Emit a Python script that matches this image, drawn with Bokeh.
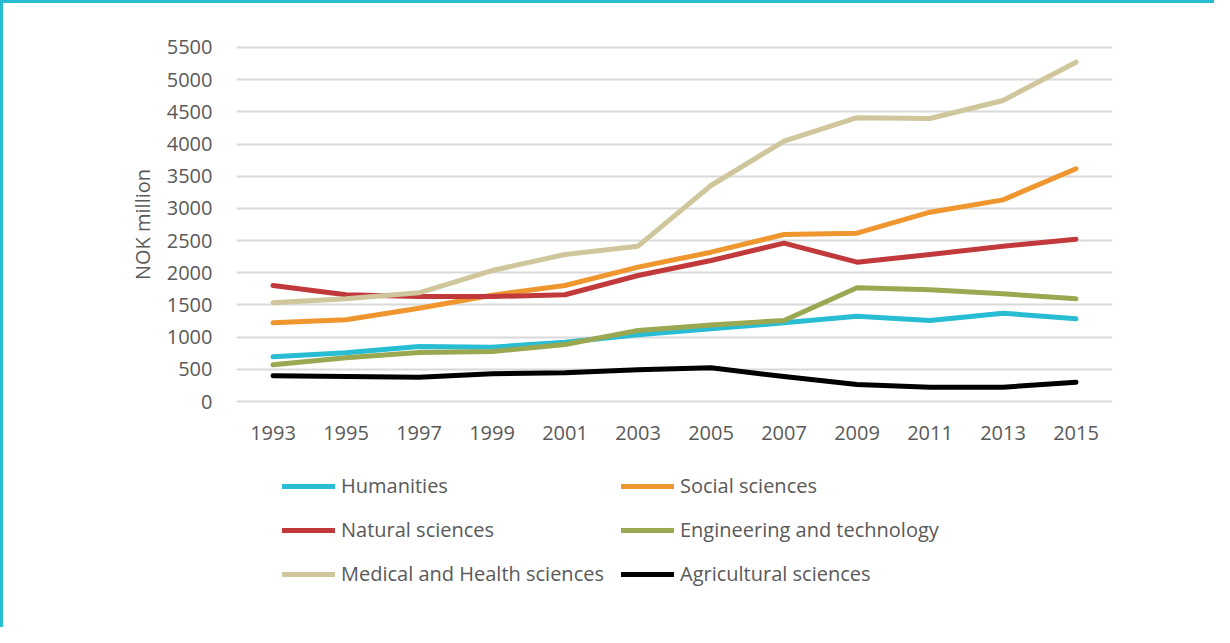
from bokeh.plotting import figure
from bokeh.layouts import column
from bokeh.models import Range1d, FactorRange, FixedTicker, Legend, LegendItem
from bokeh.embed import file_html
from bokeh.resources import INLINE

years = ["1993", "1995", "1997", "1999", "2001", "2003", "2005", "2007", "2009", "2011", "2013", "2015"]
humanities = [694, 756, 855, 844, 920, 1036, 1130, 1222, 1325, 1258, 1372, 1285]
social = [1222, 1269, 1450, 1652, 1802, 2087, 2320, 2595, 2615, 2941, 3133, 3615]
natural = [1802, 1658, 1631, 1631, 1658, 1958, 2190, 2460, 2165, 2284, 2413, 2522]
engineering = [570, 679, 761, 777, 886, 1103, 1190, 1258, 1766, 1735, 1673, 1595]
medical = [1533, 1595, 1689, 2035, 2284, 2413, 3356, 4045, 4410, 4397, 4677, 5272]
agricultural = [399, 388, 378, 430, 446, 492, 523, 388, 264, 223, 223, 300]
y_ticks = list(range(0, 5501, 500))

series = [
    ("Humanities", humanities, "#29bdd3"),
    ("Social sciences", social, "#ef962f"),
    ("Natural sciences", natural, "#c1393b"),
    ("Engineering and technology", engineering, "#9aa852"),
    ("Medical and Health sciences", medical, "#cfc69b"),
    ("Agricultural sciences", agricultural, "#000000"),
]

FONT = "Open Sans"
GRAY = "#595959"
W = 1211

p = figure(width=W, height=460, x_range=FactorRange(factors=years, range_padding=0),
           y_range=Range1d(-31, 5531), output_backend="svg", toolbar_location=None,
           min_border_left=233, min_border_top=42, min_border_right=102, min_border_bottom=60)
p.outline_line_color = None
p.xgrid.grid_line_color = None
p.ygrid.grid_line_color = "#d9d9d9"
p.ygrid.grid_line_width = 2
p.yaxis.ticker = FixedTicker(ticks=y_ticks)

for ax in (p.xaxis, p.yaxis):
    ax.axis_line_color = None
    ax.major_tick_line_color = None
    ax.minor_tick_line_color = None
    ax.major_tick_out = 0
    ax.major_tick_in = 0
    ax.major_label_text_font = FONT
    ax.major_label_text_font_size = "20px"
    ax.major_label_text_color = GRAY

p.yaxis.major_label_standoff = 24
p.xaxis.major_label_standoff = 22
p.yaxis.axis_label = "NOK million"
p.yaxis.axis_label_text_font = FONT
p.yaxis.axis_label_text_font_size = "20px"
p.yaxis.axis_label_text_font_style = "normal"
p.yaxis.axis_label_text_color = GRAY
p.yaxis.axis_label_standoff = 8

for name, vals, color in series:
    p.line(years, vals, line_color=color, line_width=5, line_cap="round", line_join="round")

# legend panel (same side borders so the frames align in the column)
p2 = figure(width=W, height=164, x_range=Range1d(0, 1), y_range=Range1d(0, 1),
            output_backend="svg", toolbar_location=None,
            x_axis_location=None, y_axis_location=None,
            min_border_left=233, min_border_top=0, min_border_right=102, min_border_bottom=0)
p2.outline_line_color = None
p2.grid.grid_line_color = None
renderers = {}
for name, vals, color in series:
    renderers[name] = p2.line([-10, -9], [-10, -9], line_color=color, line_width=5, line_cap="round")

# column-major fill: first column then second
order = ["Humanities", "Natural sciences", "Medical and Health sciences",
         "Social sciences", "Engineering and technology", "Agricultural sciences"]
items = [LegendItem(label=n, renderers=[renderers[n]]) for n in order]

legend = Legend(items=items, ncols=2, location=(46, 40))
legend.glyph_width = 53
legend.glyph_height = 20
legend.label_standoff = 6
legend.spacing = 17
legend.padding = 0
legend.margin = 0
legend.border_line_color = None
legend.background_fill_alpha = 0
legend.label_text_font = FONT
legend.label_text_font_size = "20px"
legend.label_text_color = GRAY
p2.add_layout(legend, "center")

layout = column(p, p2, spacing=0)
layout.styles = {"border-top": "3px solid #27bdd1", "border-left": "3px solid #27bdd1"}

open("out.html", "w").write(file_html(layout, INLINE))
